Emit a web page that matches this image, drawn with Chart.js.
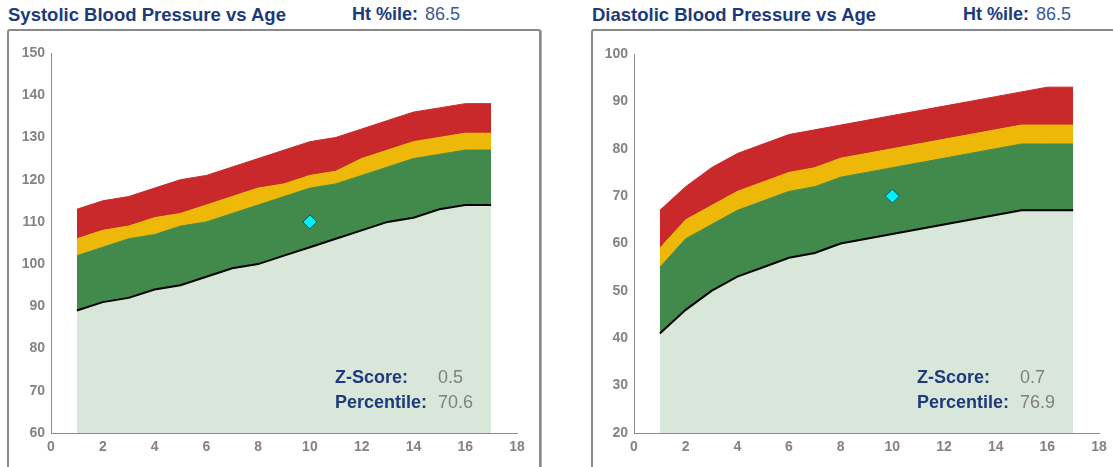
<!DOCTYPE html>
<html>
<head>
<meta charset="utf-8">
<script src="https://cdn.jsdelivr.net/npm/chart.js@4/dist/chart.umd.min.js"></script>
<style>
  body { margin: 0; width: 1113px; height: 467px; overflow: hidden; background: #fff;
         font-family: "Liberation Sans", Arial, sans-serif; position: relative; }
  .title { position: absolute; top: 4px; font-size: 18.5px; font-weight: bold; color: #1c3a7c; white-space: nowrap; }
  .ht { position: absolute; top: 4px; font-size: 18px; font-weight: bold; color: #1c3a7c; white-space: nowrap; }
  .htval { font-weight: normal; color: #3a5a9c; margin-left: 7px; }
  .box { position: absolute; top: 29px; height: 460px; border: 2px solid #8a8a8a; border-radius: 3px;
         box-shadow: 1px 0 0 #b0b0b0; }
  canvas { position: absolute; }
  .stat { position: absolute; font-size: 18px; font-weight: bold; color: #1c3a7c; white-space: nowrap; }
  .stat span { position: absolute; left: 103px; font-weight: normal; color: #7f7f7f; }
</style>
</head>
<body>
<div class="title" style="left:8px">Systolic Blood Pressure vs Age</div>
<div class="ht" style="left:352px">Ht %ile:<span class="htval">86.5</span></div>
<div class="box" style="left:7px; width:530px"></div>
<canvas id="sysChart" style="left:10px; top:31px"></canvas>
<div class="stat" style="left:335px; top:367px">Z-Score:<span>0.5</span></div>
<div class="stat" style="left:335px; top:392px">Percentile:<span>70.6</span></div>

<div class="title" style="left:592px">Diastolic Blood Pressure vs Age</div>
<div class="ht" style="left:963px">Ht %ile:<span class="htval">86.5</span></div>
<div class="box" style="left:591px; width:540px"></div>
<canvas id="diaChart" style="left:593px; top:31px"></canvas>
<div class="stat" style="left:917px; top:367px">Z-Score:<span>0.7</span></div>
<div class="stat" style="left:917px; top:392px">Percentile:<span>76.9</span></div>

<script>
const ages = [1, 2, 3, 4, 5, 6, 7, 8, 9, 10, 11, 12, 13, 14, 15, 16, 17];
const xTicks = [0, 2, 4, 6, 8, 10, 12, 14, 16, 18];

// systolic bands
const sysP50 = [89, 91, 92, 94, 95, 97, 99, 100, 102, 104, 106, 108, 110, 111, 113, 114, 114];
const sysP90 = [102, 104, 106, 107, 109, 110, 112, 114, 116, 118, 119, 121, 123, 125, 126, 127, 127];
const sysP95 = [106, 108, 109, 111, 112, 114, 116, 118, 119, 121, 122, 125, 127, 129, 130, 131, 131];
const sysTop = [113, 115, 116, 118, 120, 121, 123, 125, 127, 129, 130, 132, 134, 136, 137, 138, 138];
const sysPatient = { x: 10, y: 110 };
const sysYTicks = [60, 70, 80, 90, 100, 110, 120, 130, 140, 150];

// diastolic bands
const diaP50 = [41, 46, 50, 53, 55, 57, 58, 60, 61, 62, 63, 64, 65, 66, 67, 67, 67];
const diaP90 = [55, 61, 64, 67, 69, 71, 72, 74, 75, 76, 77, 78, 79, 80, 81, 81, 81];
const diaP95 = [59, 65, 68, 71, 73, 75, 76, 78, 79, 80, 81, 82, 83, 84, 85, 85, 85];
const diaTop = [67, 72, 76, 79, 81, 83, 84, 85, 86, 87, 88, 89, 90, 91, 92, 93, 93];
const diaPatient = { x: 10, y: 70 };
const diaYTicks = [20, 30, 40, 50, 60, 70, 80, 90, 100];

const tickFont = { family: "'Liberation Sans', Arial, sans-serif", size: 14, weight: "bold" };

function pts(values) {
  return values.map((v, i) => ({ x: ages[i], y: v }));
}

function band(values, color, fillTo) {
  return {
    data: pts(values),
    borderColor: color,
    borderWidth: 1,
    backgroundColor: color,
    pointRadius: 0,
    tension: 0,
    fill: fillTo
  };
}

function makeChart(id, width, rightPad, topPad, p50, p90, p95, top, patient, yTicks) {
  const canvas = document.getElementById(id);
  canvas.width = width;
  canvas.height = 436;
  canvas.style.width = width + "px";
  canvas.style.height = "436px";

  new Chart(canvas, {
    type: "line",
    data: {
      datasets: [
        {
          type: "scatter",
          data: [patient],
          pointStyle: "rectRot",
          pointRadius: 7,
          backgroundColor: "#00f0ff",
          borderColor: "#1d4d55",
          borderWidth: 1,
          showLine: false
        },
        {
          data: pts(p50),
          borderColor: "#000",
          borderWidth: 2,
          backgroundColor: "#d9e7da",
          pointRadius: 0,
          tension: 0,
          fill: "start"
        },
        band(p90, "#418a4c", 1),
        band(p95, "#eeb808", 2),
        band(top, "#c9292a", 3)
      ]
    },
    options: {
      responsive: false,
      animation: false,
      layout: { padding: { left: 0, top: topPad, right: rightPad, bottom: 14 } },
      plugins: { legend: { display: false }, tooltip: { enabled: false } },
      scales: {
        x: {
          type: "linear",
          min: xTicks[0],
          max: xTicks[xTicks.length - 1],
          afterBuildTicks: s => { s.ticks = xTicks.map(v => ({ value: v })); },
          afterFit: s => { s.height = 20; },
          grid: { display: false, drawTicks: false },
          border: { display: true, color: "#8c8c8c", width: 1 },
          ticks: { color: "#838383", font: tickFont, padding: 6, maxRotation: 0 }
        },
        y: {
          min: yTicks[0],
          max: yTicks[yTicks.length - 1],
          afterBuildTicks: s => { s.ticks = yTicks.map(v => ({ value: v })); },
          afterFit: s => { s.width = 41; },
          grid: { display: false, drawTicks: false },
          border: { display: true, color: "#8c8c8c", width: 1 },
          ticks: { color: "#838383", font: tickFont, padding: 6 }
        }
      }
    }
  });
}

makeChart("sysChart", 529, 22, 22, sysP50, sysP90, sysP95, sysTop, sysPatient, sysYTicks);
makeChart("diaChart", 520, 14, 23, diaP50, diaP90, diaP95, diaTop, diaPatient, diaYTicks);
</script>
</body>
</html>
